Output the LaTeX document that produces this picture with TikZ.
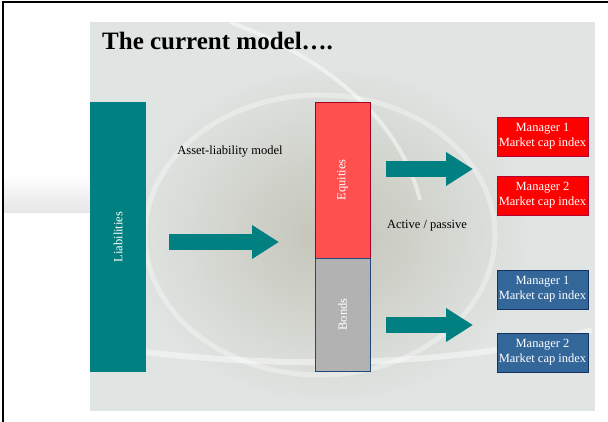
\documentclass[tikz,border=0pt]{standalone}
\usepackage{fontspec}
\setmainfont{Liberation Serif}
\usetikzlibrary{arrows.meta}

\definecolor{barteal}{RGB}{0,128,128}
\definecolor{eqred}{RGB}{255,80,80}
\definecolor{eqline}{RGB}{160,0,40}
\definecolor{bondgray}{RGB}{178,178,178}
\definecolor{bondline}{RGB}{31,73,125}
\definecolor{mgrred}{RGB}{255,0,0}
\definecolor{mgrredline}{RGB}{180,0,50}
\definecolor{mgrblue}{RGB}{51,102,153}
\definecolor{mgrblueline}{RGB}{20,50,100}
\definecolor{backdrop}{RGB}{224,228,226}
\definecolor{swirl}{RGB}{196,196,184}

\begin{document}
\begin{tikzpicture}[x=1pt, y=-1pt,
    txt/.style={font=\fontsize{12.5}{15}\selectfont, inner sep=0pt},
    block/.style={txt, rotate=90, text=white, fill=#1},
    mgr/.style={txt, text=white, align=center, minimum width=91pt, minimum height=39pt, line width=.8pt},
    fatarrow/.style={barteal, line width=16pt, -{Triangle[width=32pt, length=27pt]}}]
    \useasboundingbox (0,0) rectangle (608,422);
    % backdrop
    \shade[top color=white, bottom color=black!10] (4,175) rectangle (90,213);
    \fill[backdrop] (90,22) rectangle (595,411);
    \shade[inner color=swirl, outer color=backdrop] (330,235) ellipse (200 and 170);
    \draw[white, opacity=.35, line width=5pt] (320,235) ellipse (175 and 140);
    \draw[white, opacity=.5, line width=4pt] (230,22) .. controls (330,60) and (400,120) .. (420,200);
    \draw[white, opacity=.45, line width=6pt] (95,345) .. controls (250,370) and (450,370) .. (592,330);
    \draw[line width=2pt] (3,422) -- (3,2.5) -- (608,2.5);

    \node[anchor=base west, inner sep=0pt, font=\fontsize{25}{30}\selectfont\bfseries] (title) at (102,50) {The current model\dots.};

    \node[block=barteal, minimum width=270pt, minimum height=56pt] (liab) at (118,237) {Liabilities};
    \node[block=eqred, draw=eqline, line width=.8pt, minimum width=156pt, minimum height=55pt] (eq) at (342.5,180) {Equities};
    \node[block=bondgray, draw=bondline, line width=.8pt, minimum width=113pt, minimum height=55pt] (bonds) at (342.5,314.5) {Bonds};

    \node[txt] (alm) at (230,152) {Asset-liability model};
    \node[txt] (ap) at (427,226) {Active / passive};

    \node[mgr, fill=mgrred, draw=mgrredline] (r1) at (542.5,136.5) {Manager 1\\Market cap index};
    \node[mgr, fill=mgrred, draw=mgrredline] (r2) at (542.5,195.5) {Manager 2\\Market cap index};
    \node[mgr, fill=mgrblue, draw=mgrblueline] (b1) at (542.5,289.5) {Manager 1\\Market cap index};
    \node[mgr, fill=mgrblue, draw=mgrblueline] (b2) at (542.5,352.5) {Manager 2\\Market cap index};

    \coordinate (m1) at (169,242); \coordinate (m2) at (279,242);
    \coordinate (u1) at (386,169); \coordinate (u2) at (473,169);
    \coordinate (l1) at (386,325); \coordinate (l2) at (473,325);
    \draw[fatarrow] (m1) -- (m2);
    \draw[fatarrow] (u1) -- (u2);
    \draw[fatarrow] (l1) -- (l2);
  \end{tikzpicture}
\end{document}
